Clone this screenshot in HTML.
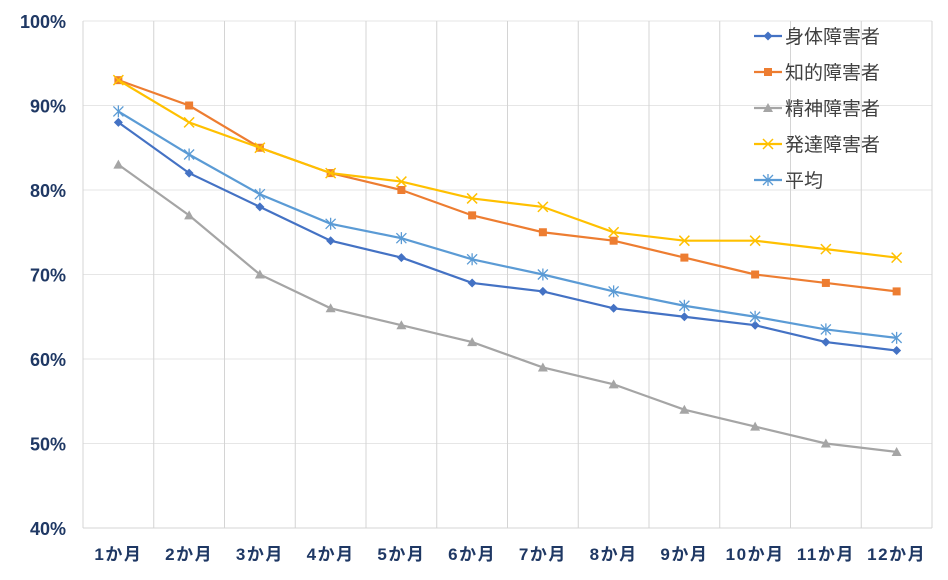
<!DOCTYPE html>
<html><head><meta charset="utf-8"><style>
body{margin:0;background:#fff;}
svg{display:block;font-family:"Liberation Sans","Noto Sans CJK JP",sans-serif;}
</style></head><body>
<svg id="chart" width="948" height="580" viewBox="0 0 948 580" xmlns="http://www.w3.org/2000/svg">
<g id="grid"></g><g id="axes"></g><g id="series"></g><g id="legend"></g>
</svg>
<script>
const categories=["1か月","2か月","3か月","4か月","5か月","6か月","7か月","8か月","9か月","10か月","11か月","12か月"];
const yTicks=[40,50,60,70,80,90,100];
const seriesNames=["身体障害者","知的障害者","精神障害者","発達障害者","平均"];
const physical=[88,82,78,74,72,69,68,66,65,64,62,61];
const intellectual=[93,90,85,82,80,77,75,74,72,70,69,68];
const mental=[83,77,70,66,64,62,59,57,54,52,50,49];
const developmental=[93,88,85,82,81,79,78,75,74,74,73,72];
const average=[89.3,84.2,79.5,76,74.3,71.8,70,68,66.3,65,63.5,62.5];

const NS="http://www.w3.org/2000/svg";
const L=83,R=932,T=21,B=528;
const bw=(R-L)/categories.length;
const x=i=>L+bw*(i+0.5);
const y=v=>B-(v-40)/60*(B-T);
function mk(tag,attrs,parent){const e=document.createElementNS(NS,tag);for(const k in attrs)e.setAttribute(k,attrs[k]);parent.appendChild(e);return e;}
const grid=document.getElementById('grid'),axes=document.getElementById('axes'),ser=document.getElementById('series'),leg=document.getElementById('legend');
yTicks.forEach(t=>{
  const l=mk('line',{x1:L,x2:R,y1:y(t),y2:y(t),stroke:'#e6e6e6','stroke-width':1},grid);
  
  
  const tx=mk('text',{x:L-17,y:y(t)+7,'text-anchor':'end','font-size':18,'font-weight':'bold',fill:'#1f3864'},axes);
  tx.textContent=t+'%';
  
  
});
for(let i=1;i<=categories.length;i++){
  const l=mk('line',{x1:L+bw*i,x2:L+bw*i,y1:T,y2:B,stroke:'#d4d4d4','stroke-width':1},grid);
  
  
}
const ax=mk('line',{x1:L,x2:L,y1:T,y2:B,stroke:'#d4d4d4'},axes);


const bx=mk('line',{x1:L,x2:R,y1:B,y2:B,stroke:'#d4d4d4'},axes);


categories.forEach((c,i)=>{
  const tx=mk('text',{x:x(i),y:560,'text-anchor':'middle','font-size':17,'font-weight':'bold','letter-spacing':1.5,fill:'#1f3864'},axes);
  tx.textContent=c;
  
  
});
const colors=['#4472c4','#ed7d31','#a5a5a5','#ffc000','#5b9bd5'];
const datas=[physical,intellectual,mental,developmental,average];
const marks=['diamond','square','triangle','x','star'];
function marker(type,cx,cy,col,g){
  if(type==='diamond')mk('path',{d:`M${cx} ${cy-4.5}L${cx+4.5} ${cy}L${cx} ${cy+4.5}L${cx-4.5} ${cy}Z`,fill:col},g);
  else if(type==='square')mk('rect',{x:cx-4,y:cy-4,width:8,height:8,fill:col},g);
  else if(type==='triangle')mk('path',{d:`M${cx} ${cy-5}L${cx+5} ${cy+4}L${cx-5} ${cy+4}Z`,fill:col},g);
  else if(type==='x')mk('path',{d:`M${cx-5} ${cy-5}L${cx+5} ${cy+5}M${cx+5} ${cy-5}L${cx-5} ${cy+5}`,stroke:col,'stroke-width':1.5,fill:'none'},g);
  else mk('path',{d:`M${cx-5} ${cy-5}L${cx+5} ${cy+5}M${cx+5} ${cy-5}L${cx-5} ${cy+5}M${cx} ${cy-6}L${cx} ${cy+6}`,stroke:col,'stroke-width':1.3,fill:'none'},g);
}
datas.forEach((d,s)=>{
  const g=mk('g',{},ser);
  
  
  const p=mk('polyline',{points:d.map((v,i)=>x(i)+','+y(v)).join(' '),fill:'none',stroke:colors[s],'stroke-width':2.2},g);
  
  
  d.forEach((v,i)=>marker(marks[s],x(i),y(v),colors[s],g));
  const lg=mk('g',{},leg);
  
  
  const ly=36+s*36;
  mk('line',{x1:754,x2:782,y1:ly,y2:ly,stroke:colors[s],'stroke-width':2.2},lg);
  marker(marks[s],768,ly,colors[s],lg);
  const t=mk('text',{x:785,y:ly+7,'font-size':19,fill:'#404040'},lg);
  t.textContent=seriesNames[s];
});
</script>
</body></html>
